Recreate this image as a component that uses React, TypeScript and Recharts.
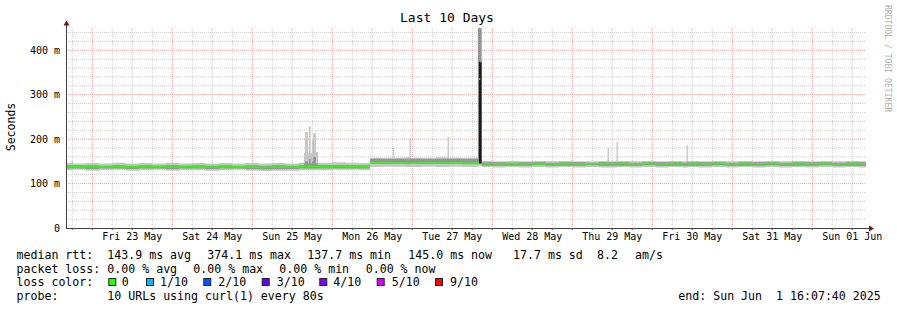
import React from 'react';
import { ComposedChart, Area, XAxis, YAxis, CartesianGrid } from 'recharts';

// hours since Thu 22 May 00:00, graph ends Sun 01 Jun 16:07:40
const START = 16.128;
const END = 256.128;

const hours = [
  16.13, 17.7, 18.3, 22, 26, 30, 34, 38, 42, 46,
  50, 54, 58, 62, 66, 70, 74, 78, 82, 86,
  87.5, 87.8, 88.7, 89.0, 89.5, 89.9, 90.3, 91.1, 91.7, 96,
  100, 104, 107.3, 111, 114.1, 114.5, 118, 119.2, 119.6, 123,
  127, 130.6, 131, 135, 139.7, 140.0, 140.4, 140.8, 144, 148,
  152, 156, 160, 164, 168, 172, 176, 178.6, 179.0, 181.3,
  181.7, 185, 189, 193, 197, 201, 202.3, 202.7, 206, 210,
  214, 218, 222, 226, 230, 234, 238, 242, 246, 250,
  254, 256.13,
];

// smoke (all pings) in ms
const smokeLow = [
  130, 130, 131, 129, 130, 131, 129, 130, 131, 129,
  130, 130, 129, 130, 131, 129, 128, 129, 129, 130,
  130, 130, 130, 130, 130, 130, 130, 130, 130, 131,
  131, 130, 137, 138, 138, 138, 137, 137, 137, 138,
  137, 137, 138, 137, 140, 140, 140, 137, 136, 137,
  136, 137, 136, 137, 136, 137, 136, 136, 136, 137,
  137, 136, 137, 136, 137, 136, 136, 137, 136, 137,
  136, 137, 136, 137, 136, 137, 136, 137, 136, 137,
  136, 136,
];
const smokeHigh = [
  146, 150, 145, 146, 145, 147, 145, 146, 145, 147,
  145, 146, 145, 146, 145, 146, 145, 146, 145, 147,
  168, 216, 168, 229, 168, 198, 213, 171, 147, 148,
  147, 146, 158, 158, 180, 158, 159, 202, 158, 158,
  159, 205, 158, 158, 450, 450, 450, 151, 150, 151,
  150, 151, 150, 151, 150, 150, 151, 180, 150, 194,
  151, 150, 151, 150, 151, 150, 186, 151, 150, 151,
  150, 151, 150, 151, 150, 151, 150, 151, 150, 151,
  150, 150,
];
// denser inner part of the smoke
const coreLow = [
  134, 134, 134, 133, 134, 134, 133, 134, 134, 133,
  134, 134, 133, 134, 134, 133, 132, 133, 133, 134,
  134, 134, 134, 134, 134, 134, 134, 134, 134, 134,
  134, 134, 147, 147, 147, 147, 146, 146, 146, 147,
  146, 146, 147, 146, 146, 146, 146, 140, 140, 140,
  140, 141, 140, 140, 140, 141, 140, 140, 140, 140,
  140, 140, 141, 140, 140, 140, 140, 140, 140, 141,
  140, 140, 140, 141, 140, 140, 140, 141, 140, 140,
  140, 140,
];
const coreHigh = [
  141, 141, 141, 141, 140, 141, 140, 141, 140, 141,
  140, 141, 140, 141, 140, 141, 140, 141, 140, 141,
  145, 150, 145, 155, 145, 150, 160, 145, 142, 142,
  141, 141, 156, 155, 156, 156, 156, 156, 156, 155,
  156, 156, 156, 155, 450, 450, 450, 148, 148, 147,
  148, 148, 147, 148, 148, 147, 148, 148, 148, 148,
  148, 147, 148, 148, 148, 147, 148, 148, 148, 148,
  147, 148, 148, 148, 147, 148, 148, 148, 147, 148,
  148, 148,
];
const medianRtt = [
  138, 138, 137.5, 138, 137, 138, 137.5, 138, 138, 137,
  138, 137.5, 137, 138, 137.5, 137, 136.5, 137, 137, 138,
  138, 138, 138, 138, 138, 138, 138, 138, 138, 138.5,
  138, 138, 146, 146, 146, 146, 145.5, 146, 146, 146,
  146, 146, 146, 145.5, 146, 335, 374, 144.5, 144.5, 145,
  144.5, 144, 144.5, 145, 144.5, 144.5, 145, 144.5, 144.5, 145,
  145, 144.5, 145, 144.5, 145, 144.5, 144.5, 145, 144.5, 145,
  144.5, 145, 144.5, 145, 144.5, 145, 144.5, 145, 144.5, 145,
  144.5, 144.5,
];
// the black core of the big spike on Tue 27 May
const peakHours = [140.0, 140.4, 140.8];
const peakTop = [374, 374, 374];

const dayLabels = [
  'Fri 23 May', 'Sat 24 May', 'Sun 25 May', 'Mon 26 May', 'Tue 27 May',
  'Wed 28 May', 'Thu 29 May', 'Fri 30 May', 'Sat 31 May', 'Sun 01 Jun',
];
const yTicks = [0, 100, 200, 300, 400];

const rttStats = ['143.9 ms avg', '374.1 ms max', '137.7 ms min', '145.0 ms now', '17.7 ms sd', '8.2', 'am/s'];
const lossStats = ['0.00 % avg', '0.00 % max', '0.00 % min', '0.00 % now'];
const lossLabels = ['0', '1/10', '2/10', '3/10', '4/10', '5/10', '9/10'];
const lossColors = ['#26ff00', '#00b8ff', '#0059ff', '#5e00ff', '#7e00ff', '#dd00ff', '#ff0000'];
const probeText = '10 URLs using curl(1) every 80s';
const endText = 'end: Sun Jun\u00a0\u00a01 16:07:40 2025';

const rows = hours.map((h, i) => {
  const p = peakHours.indexOf(h);
  return {
    h,
    smoke: [smokeLow[i], smokeHigh[i]],
    core: [coreLow[i], coreHigh[i]],
    peak: p >= 0 ? [145, peakTop[p]] : null,
    med: [medianRtt[i] - 1.9, medianRtt[i] + 1.9],
  };
});

// grid: minor every 6h / 20 ms, major at midnight / 100 ms
const xTicks: number[] = [];
for (let t = 18; t <= 252; t += 6) xTicks.push(t);
const majorX = xTicks.filter(t => t % 24 === 0);
const minorX = xTicks.filter(t => t % 24 !== 0);
const minorY: number[] = [];
for (let v = 20; v <= 440; v += 20) if (v % 100 !== 0) minorY.push(v);
const majorY = [100, 200, 300, 400];

const FONT = '"DejaVu Sans Mono", monospace';

const rttX = [107.3, 207.3, 307.3, 408.3, 513, 597, 635];
const lossX = [107.3, 193.3, 279.3, 365.7];
const boxX = [108.3, 146, 203.3, 261.7, 319.3, 376.7, 435];
const boxLabelX = [121.7, 160, 218.3, 276.7, 333.3, 391.7, 450];
const lineY = [258.7, 272.5, 286.3, 300];

export default function App() {
  return (
    <div style={{ position: 'absolute', left: 0, top: 0, width: 897, height: 310, background: '#fff' }}>
      <ComposedChart width={897} height={310} data={rows} margin={{ top: 28, right: 31, bottom: 0, left: 0 }}>
        <CartesianGrid horizontalValues={minorY} verticalValues={minorX} stroke="#cccccc" strokeDasharray="1 1" />
        <CartesianGrid horizontalValues={majorY} verticalValues={majorX} stroke="#f2a0a0" strokeDasharray="1 1" />
        <XAxis
          dataKey="h"
          type="number"
          domain={[START, END]}
          allowDataOverflow
          ticks={xTicks}
          interval={0}
          tickFormatter={(t: number) => (t % 24 === 12 ? dayLabels[(t - 36) / 24] : '')}
          height={82}
          axisLine={false}
          tickSize={2}
          tickMargin={3}
          tickLine={{ stroke: '#404040' }}
          tick={{ fontSize: 10, fontFamily: FONT, fill: '#000' }}
        />
        <YAxis
          type="number"
          domain={[0, 450]}
          allowDataOverflow
          ticks={yTicks}
          interval={0}
          tickFormatter={(v: number) => (v === 0 ? '0' : `${v} m`)}
          width={66}
          axisLine={false}
          tickLine={false}
          tickSize={2}
          tickMargin={4}
          tick={{ fontSize: 10, fontFamily: FONT, fill: '#000' }}
        />
        <Area dataKey="smoke" type="stepAfter" fill="#c6c6c6" fillOpacity={1} stroke="none" isAnimationActive={false} />
        <Area dataKey="core" type="stepAfter" fill="#959595" fillOpacity={1} stroke="none" isAnimationActive={false} />
        <Area dataKey="peak" type="stepAfter" fill="#1a1a1a" fillOpacity={1} stroke="none" isAnimationActive={false} />
        <Area dataKey="med" type="stepAfter" fill="#26ff00" fillOpacity={1} stroke="none" isAnimationActive={false} />
      </ComposedChart>

      <svg width={897} height={310} style={{ position: 'absolute', left: 0, top: 0, pointerEvents: 'none' }}>
        <text x={447} y={22} textAnchor="middle" fontFamily={FONT} fontSize={13} fill="#000">Last 10 Days</text>
        <text x={15} y={127} textAnchor="middle" fontFamily={FONT} fontSize={11.5} fill="#000" transform="rotate(-90 15 127)">Seconds</text>
        <text x={885} y={5} fontFamily={FONT} fontSize={8.1} fill="#b0b0b0" transform="rotate(90 885 5)">RRDTOOL / TOBI OETIKER</text>

        <line x1={66.5} y1={228.5} x2={66.5} y2={25} stroke="#404040" strokeWidth={1} />
        <polygon points="63.5,25.5 69.5,25.5 66.5,20.5" fill="#7a1414" />
        <line x1={66} y1={228.5} x2={869} y2={228.5} stroke="#404040" strokeWidth={1} />
        <polygon points="869,225.5 869,231.5 874,228.5" fill="#7a1414" />

        <g fontFamily={FONT} fontSize={11.6} fill="#000">
          <text x={16.5} y={lineY[0]}>median rtt:</text>
          {rttStats.map((s, i) => (
            <text key={s} x={rttX[i]} y={lineY[0]}>{s}</text>
          ))}
          <text x={16.5} y={lineY[1]}>packet loss:</text>
          {lossStats.map((s, i) => (
            <text key={s + i} x={lossX[i]} y={lineY[1]}>{s}</text>
          ))}
          <text x={16.5} y={lineY[2]}>loss color:</text>
          {lossLabels.map((s, i) => (
            <g key={s}>
              <rect x={boxX[i] + 0.5} y={278.5} width={7} height={7} fill={lossColors[i]} stroke="#222" strokeWidth={1} />
              <text x={boxLabelX[i]} y={lineY[2]}>{s}</text>
            </g>
          ))}
          <text x={16.5} y={lineY[3]}>probe:</text>
          <text x={107.3} y={lineY[3]}>{probeText}</text>
          <text x={678.3} y={lineY[3]}>{endText}</text>
        </g>
      </svg>
    </div>
  );
}
